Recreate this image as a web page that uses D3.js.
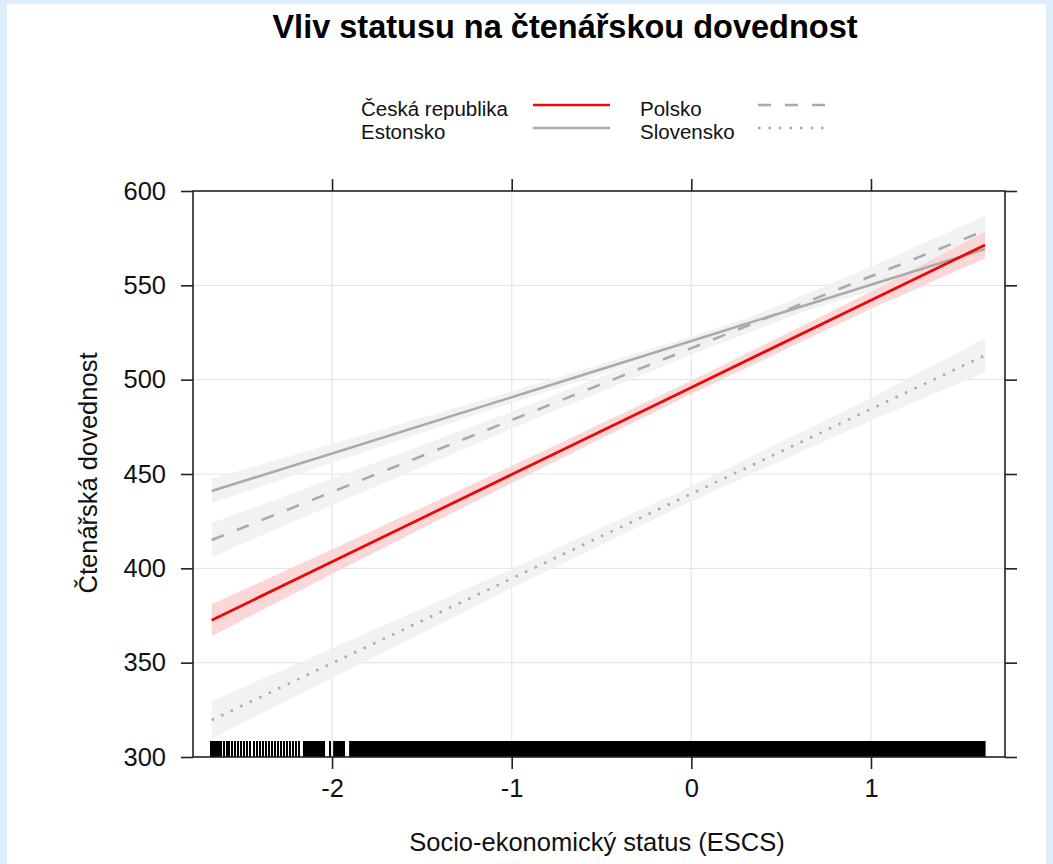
<!DOCTYPE html>
<html><head><meta charset="utf-8">
<script src="https://cdn.jsdelivr.net/npm/d3@7"></script>
<style>body{margin:0;background:#dcedfc;} svg{display:block;}</style>
</head><body>
<svg id="chart" width="1053" height="864"></svg>
<script>
// ---- data ----
const xPoints = [-2.67, -2, -1, 0, 1, 1.635];
const seriesNames = ["Česká republika", "Estonsko", "Polsko", "Slovensko"];
const czFit = [372.5, 403.5, 449.7, 495.9, 542.1, 571.4];
const czHalf = [8.5, 6.5, 4.5, 3.5, 4.5, 7];
const eeFit = [441, 460.9, 490.7, 520.5, 550.3, 569.2];
const eeHalf = [6.5, 5, 3, 2.5, 3.5, 5];
const plFit = [415, 440.5, 478.6, 516.7, 554.8, 579];
const plHalf = [9, 7, 4.5, 3.5, 5, 8];
const skFit = [319.6, 349.7, 394.6, 439.5, 484.4, 512.9];
const skHalf = [10, 8, 5, 4, 6, 9];
const xTicks = [-2, -1, 0, 1];
const yTicks = [300, 350, 400, 450, 500, 550, 600];
const rugSingles = [-2.674, -2.663, -2.652, -2.641, -2.630, -2.619, -2.602, -2.585, -2.574, -2.557,
  -2.540, -2.524, -2.507, -2.490, -2.474, -2.457, -2.435, -2.418, -2.401, -2.384, -2.368,
  -2.351, -2.334, -2.318, -2.301, -2.284, -2.267, -2.251, -2.234, -2.217, -2.201, -2.184, -2.011];
const rugDenseStart = [-2.162, -1.994, -1.905];
const rugDenseEnd = [-2.039, -1.928, 1.638];

// ---- layout ----
const svg = d3.select("#chart");
const L = 193, R = 1005, T = 191, B = 757;
const x = d3.scaleLinear().domain([-2.774, 1.746]).range([L, R]);
const y = d3.scaleLinear().domain([300, 600]).range([B, T]);
const font = "'Liberation Sans', Arial, sans-serif";

svg.append("rect").attr("x", 7).attr("y", 4).attr("width", 1039).attr("height", 860).attr("fill", "#fff");

svg.append("text").attr("x", 565).attr("y", 38).attr("text-anchor", "middle")
  .attr("font-family", font).attr("font-weight", "bold").attr("font-size", 32.5).attr("fill", "#000")
  .text("Vliv statusu na čtenářskou dovednost");

// grid
const g = svg.append("g");
g.selectAll(".gx").data(xTicks).join("line").attr("x1", d => x(d)).attr("x2", d => x(d))
  .attr("y1", T).attr("y2", B).attr("stroke", "#e6e6e6").attr("stroke-width", 1.2);
g.selectAll(".gy").data(yTicks.slice(1, -1)).join("line").attr("y1", d => y(d)).attr("y2", d => y(d))
  .attr("x1", L).attr("x2", R).attr("stroke", "#e6e6e6").attr("stroke-width", 1.2);

const series = [
  {fit: czFit, half: czHalf, color: "#e80a0a", band: "#fbd3d3", dash: null},
  {fit: eeFit, half: eeHalf, color: "#aaaaaa", band: "#f0f0f0", dash: null},
  {fit: plFit, half: plHalf, color: "#aaaaaa", band: "#f0f0f0", dash: "13,14"},
  {fit: skFit, half: skHalf, color: "#aaaaaa", band: "#f0f0f0", dash: "2.5,8"}
];
const area = d3.area().x(d => x(d.x)).y0(d => y(d.lo)).y1(d => y(d.hi));
const line = d3.line().x(d => x(d.x)).y(d => y(d.v));
[3, 2, 1, 0].forEach(i => {
  const s = series[i];
  const pts = xPoints.map((xv, j) => ({x: xv, lo: s.fit[j] - s.half[j], hi: s.fit[j] + s.half[j]}));
  svg.append("path").attr("d", area(pts)).attr("fill", s.band).attr("fill-opacity", i === 0 ? 0.9 : 0.85);
});
[3, 2, 1, 0].forEach(i => {
  const s = series[i];
  const pts = xPoints.map((xv, j) => ({x: xv, v: s.fit[j]}));
  svg.append("path").attr("d", line(pts)).attr("fill", "none").attr("stroke", s.color)
    .attr("stroke-width", i === 0 ? 2.8 : 2.6).attr("stroke-dasharray", s.dash);
});

// rug
const rugTop = B - 16;
svg.selectAll(".rug").data(rugSingles).join("line").attr("x1", d => x(d)).attr("x2", d => x(d))
  .attr("y1", rugTop).attr("y2", B).attr("stroke", "#000").attr("stroke-width", 1.6)
  .attr("shape-rendering", "crispEdges");
svg.selectAll(".rugd").data(rugDenseStart).join("rect").attr("x", d => x(d))
  .attr("width", (d, i) => x(rugDenseEnd[i]) - x(d)).attr("y", rugTop).attr("height", B - rugTop).attr("fill", "#000");

// frame + axes
const axCol = "#222";
svg.append("rect").attr("x", L).attr("y", T).attr("width", R - L).attr("height", B - T)
  .attr("fill", "none").attr("stroke", axCol).attr("stroke-width", 1.6);
const tl = 12;
const axB = svg.append("g").attr("transform", `translate(0,${B})`)
  .call(d3.axisBottom(x).tickValues(xTicks).tickSize(tl).tickPadding(10).tickFormat(d3.format("d")));
const axT = svg.append("g").attr("transform", `translate(0,${T})`)
  .call(d3.axisTop(x).tickValues(xTicks).tickSize(tl).tickFormat(""));
const axL = svg.append("g").attr("transform", `translate(${L},0)`)
  .call(d3.axisLeft(y).tickValues(yTicks).tickSize(tl).tickPadding(15));
const axR = svg.append("g").attr("transform", `translate(${R},0)`)
  .call(d3.axisRight(y).tickValues(yTicks).tickSize(tl).tickFormat(""));
[axB, axT, axL, axR].forEach(a => {
  a.select(".domain").remove();
  a.selectAll("line").attr("stroke", axCol).attr("stroke-width", 1.6);
  a.selectAll("text").attr("font-family", font).attr("font-size", 25.5).attr("fill", "#111");
});
axB.selectAll("text").text(d => d < 0 ? "-" + Math.abs(d) : d).attr("dy", "0.71em");

svg.append("text").attr("x", 597).attr("y", 851).attr("text-anchor", "middle")
  .attr("font-family", font).attr("font-size", 25.5).attr("fill", "#111")
  .text("Socio-ekonomický status (ESCS)");
svg.append("text").attr("transform", "translate(97,473) rotate(-90)").attr("text-anchor", "middle")
  .attr("font-family", font).attr("font-size", 25.5).attr("fill", "#111")
  .text("Čtenářská dovednost");

// legend
const legX = [361, 640], legLineX = [[533, 610], [758, 830]], legY = [116, 139];
series.forEach((s, i) => {
  const col = i < 2 ? 0 : 1, row = i % 2;
  svg.append("text").attr("x", legX[col]).attr("y", legY[row]).attr("font-family", font)
    .attr("font-size", 20.5).attr("fill", "#111").text(seriesNames[i]);
  svg.append("line").attr("x1", legLineX[col][0]).attr("x2", legLineX[col][1])
    .attr("y1", legY[row] - 11).attr("y2", legY[row] - 11).attr("stroke", s.color)
    .attr("stroke-width", 2.6).attr("stroke-dasharray", s.dash);
});
</script>
</body></html>
